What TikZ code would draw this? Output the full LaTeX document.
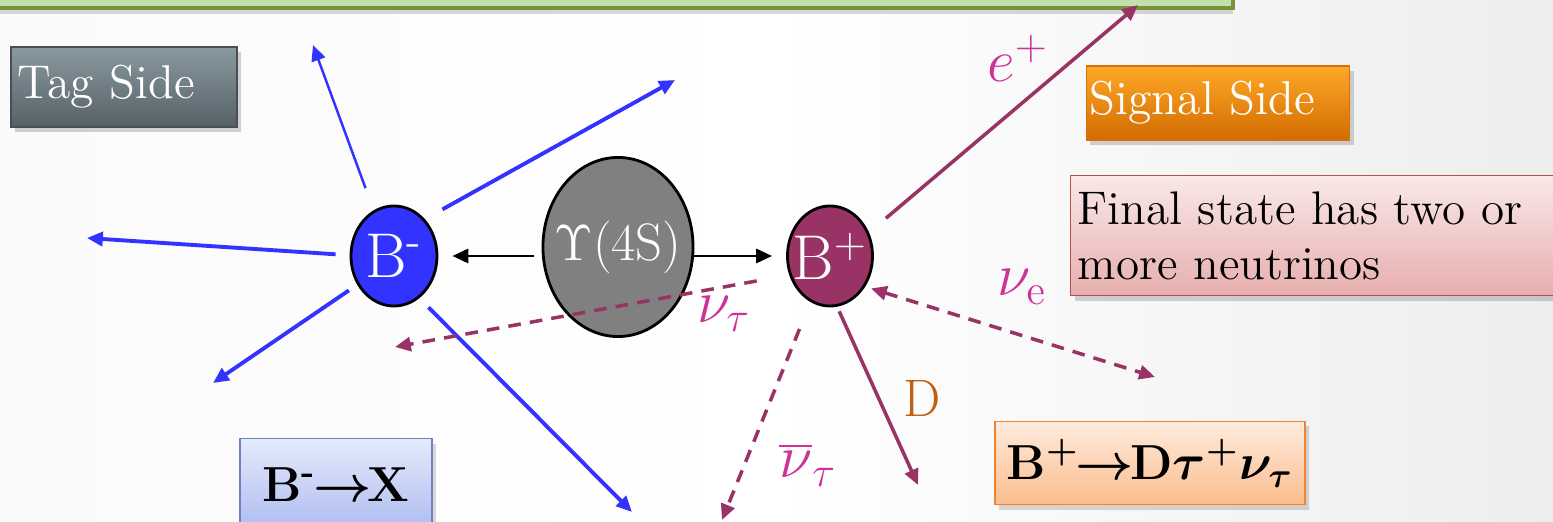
\documentclass[tikz,border=0pt]{standalone}
\usepackage{xcolor}
\usepackage{tikz}
\usetikzlibrary{arrows.meta, positioning, shapes.geometric, shadows}

\definecolor{tagblue}{RGB}{51,51,255}
\definecolor{sigplum}{RGB}{153,51,102}
\definecolor{labmag}{RGB}{204,51,153}
\definecolor{dbrown}{RGB}{191,96,18}
\definecolor{bargreen}{RGB}{196,224,170}
\definecolor{bardark}{RGB}{118,146,60}

\begin{document}
\begin{tikzpicture}[
            x=0.01cm, y=-0.01cm,
            meson/.style={ellipse, draw=black, thick, text=white, inner sep=0pt, font=\fontsize{18}{20}\selectfont},
            tagtrk/.style={-{Triangle[length=4.5pt,width=4pt]}, line width=1.1pt, tagblue},
            sigtrk/.style={-{Triangle[length=4.5pt,width=4pt]}, line width=1pt, sigplum},
            nutrk/.style={sigtrk, dash pattern=on 3.6pt off 2.6pt},
            pair/.style={-{Triangle[length=4.5pt,width=4pt]}, thick, black},
            tlabel/.style={labmag, font=\fontsize{17}{19}\selectfont},
            sidebox/.style={draw, thin, text=white, align=left, inner xsep=2pt, font=\fontsize{13.5}{16}\selectfont,
                drop shadow={opacity=0.35, shadow xshift=0.04cm, shadow yshift=-0.05cm}},
            chanbox/.style={draw, thin, text=black, font=\fontsize{14}{17}\selectfont\bfseries\boldmath,
                drop shadow={opacity=0.3, shadow xshift=0.04cm, shadow yshift=-0.05cm}}
        ]
            % page and background
            \useasboundingbox (0,0) rectangle (1553,522);
            \clip (0,0) rectangle (1553,522);
            \shade[left color=gray!4, right color=gray!14, middle color=white] (0,0) rectangle (1553,522);
            \filldraw[fill=bargreen, draw=bardark, line width=1.4pt,
                drop shadow={opacity=0.3, shadow xshift=0cm, shadow yshift=-0.06cm}] (-30,-80) rectangle (1233,8);

            % the decay
            \node[meson, fill=tagblue, minimum width=0.86cm, minimum height=1.0cm] (bm) at (394,256) {\makebox[0pt]{B\textsuperscript{-}}};
            \node[meson, fill=gray, minimum width=1.5cm, minimum height=1.79cm, font=\fontsize{15}{18}\selectfont] (ups) at (618,247) {\makebox[0pt]{$\Upsilon$(4S)}};
            \node[meson, fill=sigplum, minimum width=0.85cm, minimum height=1.0cm] (bp) at (830,256) {\makebox[0pt]{B$^{+}$}};
            \draw[pair] ([xshift=-0.08cm]ups.west |- bm) -- ([xshift=0.14cm]bm.east);
            \draw[pair] (ups.east |- bp) -- ([xshift=-0.14cm]bp.west);

            % tag side tracks
            \coordinate (tk1) at (313,45);
            \coordinate (tk2) at (675,80);
            \coordinate (tk3) at (87,238);
            \coordinate (tk4) at (213,383);
            \coordinate (tk5) at (632,512);
            \draw[tagtrk, line width=0.7pt, shorten <=0.235cm] (bm.114) -- (tk1);
            \draw[tagtrk, shorten <=0.2cm] (bm.50) -- (tk2);
            \draw[tagtrk, shorten <=0.14cm] (bm.179) -- (tk3);
            \draw[tagtrk, shorten <=0.1cm] (bm.218) -- (tk4);
            \draw[tagtrk, shorten <=0.13cm] (bm.-59) -- (tk5);

            % signal side tracks
            \coordinate (ep) at (1138,5);
            \coordinate (dend) at (918,485);
            \coordinate (nut) at (395,347);
            \coordinate (nutb) at (722,520);
            \coordinate (nue) at (1155,377);
            \draw[sigtrk, shorten <=0.22cm] (bp.31) -- (ep);
            \draw[sigtrk, shorten <=0.05cm] (bp.-82) -- (dend);
            \draw[nutrk, shorten <=0.33cm] (bp.205) -- (nut);
            \draw[nutrk, shorten <=0.29cm] (bp.247) -- (nutb);
            \draw[nutrk, {Triangle[length=4.5pt,width=4pt]}-{Triangle[length=4.5pt,width=4pt]}, shorten <=0.06cm] (bp.-41) -- (nue);

            \node[tlabel] (lep) at (1018,58) {$e^{+}$};
            \node[tlabel] (lnut) at (724,314) {$\nu_{\tau}$};
            \node[tlabel] (lnutb) at (808,465) {$\overline{\nu}_{\tau}$};
            \node[tlabel] (lnue) at (1022,287) {$\nu_{\mathrm{e}}$};
            \node[dbrown, font=\fontsize{15}{18}\selectfont] (ld) at (922,398) {D};

            % labels and boxes
            \node[sidebox, top color={rgb,255:red,138;green,153;blue,160}, bottom color={rgb,255:red,86;green,97;blue,103},
                draw={rgb,255:red,70;green,80;blue,86}, text width=2.12cm, minimum height=0.8cm] (tag) at (124,87) {Tag Side};
            \node[sidebox, top color={rgb,255:red,255;green,168;blue,40}, bottom color={rgb,255:red,210;green,108;blue,0},
                draw={rgb,255:red,214;green,110;blue,20}, text width=2.56cm, minimum height=0.74cm, inner xsep=1pt] (sig) at (1218,103) {Signal Side};
            \node[sidebox, text=black, top color={rgb,255:red,249;green,232;blue,232}, bottom color={rgb,255:red,231;green,174;blue,174},
                draw={rgb,255:red,180;green,80;blue,80}, text width=4.85cm, minimum height=1.2cm, anchor=north west,
                font=\fontsize{13.4}{15.6}\selectfont] (fin) at (1070,175) {Final state has two or\\more neutrinos};
            \node[chanbox, top color={rgb,255:red,229;green,234;blue,251}, bottom color={rgb,255:red,174;green,188;blue,240},
                draw={rgb,255:red,110;green,130;blue,195}, minimum width=1.92cm, minimum height=0.92cm, anchor=north] (chx) at (336,438)
                {B\textsuperscript{-}\kern-1pt$\rightarrow$\kern-1pt X};
            \node[chanbox, top color={rgb,255:red,254;green,235;blue,222}, bottom color={rgb,255:red,251;green,189;blue,140},
                draw={rgb,255:red,240;green,130;blue,50}, minimum width=3.05cm, minimum height=0.83cm] (chs) at (1150,463)
                {B$^{+}$\kern-1pt$\rightarrow$\kern-1pt D$\tau^{+}\nu_{\tau}$};
        \end{tikzpicture}
\end{document}
